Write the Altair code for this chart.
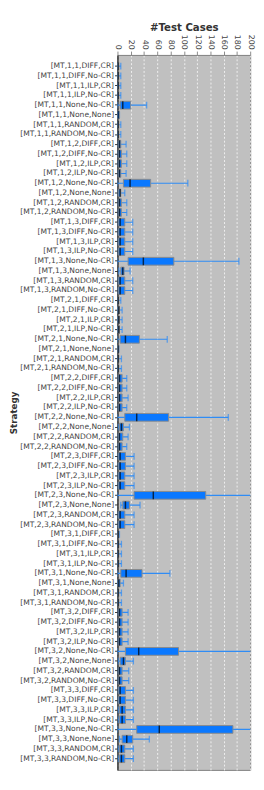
import altair as alt
import pandas as pd

groups = ["1,1", "1,2", "1,3", "2,1", "2,2", "2,3", "3,1", "3,2", "3,3"]
variants = ["DIFF,CR", "DIFF,No-CR", "ILP,CR", "ILP,No-CR",
            "None,No-CR", "None,None", "RANDOM,CR", "RANDOM,No-CR"]
strategies = [f"[MT,{g},{v}]" for g in groups for v in variants]
x_ticks = [0, 20, 40, 60, 80, 100, 120, 140, 160, 180, 200]

mins = [0, 0, 0, 0, 0, 0, 0, 0,
        1, 1, 1, 1, 0, 1, 1, 1,
        1, 1, 1, 1, 0, 2, 1, 1,
        0, 0, 0, 0, 0, 0, 0, 0,
        1, 1, 1, 1, 0, 1, 1, 1,
        1, 1, 1, 1, 0, 5, 1, 1,
        0, 0, 0, 0, 0, 0, 0, 0,
        1, 1, 1, 1, 0, 1, 1, 1,
        1, 1, 1, 1, 0, 3, 1, 1]
q1s = [1, 1, 1, 1, 4, 0, 1, 1,
       2, 2, 2, 2, 9, 2, 2, 2,
       2, 2, 2, 2, 16, 5, 2, 2,
       1, 1, 1, 1, 4, 0, 1, 1,
       2, 2, 2, 2, 11, 3, 2, 2,
       2, 2, 2, 2, 25, 8, 2, 2,
       1, 1, 1, 1, 5, 1, 1, 1,
       2, 2, 2, 2, 12, 4, 2, 2,
       2, 2, 3, 3, 29, 7, 3, 3]
medians = [1, 1, 1, 1, 8, 1, 1, 1,
           3, 3, 3, 3, 19, 4, 3, 3,
           4, 4, 4, 4, 39, 8, 4, 4,
           1, 2, 2, 2, 12, 1, 1, 1,
           3, 3, 3, 3, 29, 6, 3, 3,
           4, 4, 4, 4, 54, 12, 4, 4,
           1, 1, 1, 1, 13, 2, 1, 1,
           3, 3, 3, 3, 32, 9, 3, 3,
           4, 4, 7, 7, 63, 14, 6, 6]
q3s = [2, 2, 2, 2, 20, 3, 2, 2,
       5, 6, 6, 5, 50, 5, 6, 6,
       11, 11, 11, 11, 85, 10, 11, 11,
       2, 3, 3, 3, 33, 2, 2, 2,
       7, 7, 7, 7, 77, 9, 8, 7,
       12, 12, 11, 11, 133, 18, 11, 11,
       2, 2, 2, 2, 37, 4, 2, 2,
       7, 7, 7, 7, 92, 12, 7, 7,
       12, 12, 12, 12, 174, 23, 11, 11]
maxs = [5, 5, 5, 5, 44, 3, 5, 5,
        13, 14, 14, 13, 106, 11, 14, 14,
        23, 23, 23, 23, 183, 19, 23, 23,
        5, 7, 7, 7, 75, 2, 6, 6,
        14, 14, 16, 14, 167, 18, 16, 14,
        25, 25, 25, 25, 230, 34, 25, 25,
        3, 6, 6, 6, 79, 9, 6, 6,
        16, 16, 16, 16, 215, 24, 17, 17,
        24, 24, 24, 24, 240, 48, 24, 24]

df = pd.DataFrame({
    "strategy": strategies,
    "min": mins, "q1": q1s, "median": medians, "q3": q3s, "max": maxs,
})

BLUE = "#0a78ff"
WHISK = "#2f8cf5"

xscale = alt.Scale(domain=[0, 200], nice=False, zero=True)
xaxis = alt.Axis(orient="top", values=x_ticks,
                 title="#Test Cases", titleFontSize=10.5,
                 titleFontWeight="bold", titleColor="#333",
                 titlePadding=2,
                 labelAngle=90, labelAlign="right",
                 labelBaseline="middle", labelFontSize=8,
                 labelColor="#444", labelPadding=2,
                 labelOverlap=False, labelFlush=False,
                 tickSize=4, tickColor="#888", domainColor="#888",
                 grid=True, gridColor="#f0f0f0", gridDash=[2, 2],
                 gridWidth=1)


def xq(field):
    return alt.X(f"{field}:Q", scale=xscale, axis=xaxis, title="#Test Cases")


yenc = alt.Y(
    "strategy:N", sort=strategies,
    scale=alt.Scale(paddingInner=0, paddingOuter=0.65),
    axis=alt.Axis(title="Strategy", titleFontSize=9, titleFontWeight="bold",
                  titleColor="#333", titlePadding=1,
                  labelFontSize=7.8, labelColor="#444", labelPadding=1,
                  tickSize=3, tickColor="#333", domainColor="#333",
                  domainWidth=1.5),
)

base = alt.Chart(df).encode(y=yenc)

whisker = base.mark_rule(color=WHISK, strokeWidth=1.2, clip=True).encode(
    x=xq("min"), x2="max:Q")
cap_lo = base.mark_tick(color=WHISK, size=7, thickness=1.3, clip=True,
                        orient="vertical").encode(x=xq("min"))
cap_hi = base.mark_tick(color=WHISK, size=7, thickness=1.3, clip=True,
                        orient="vertical").encode(x=xq("max"))
box = base.mark_bar(size=8, color=BLUE, stroke="#8a8a8a", strokeWidth=1,
                    clip=True).encode(x=xq("q1"), x2="q3:Q")
med = base.mark_tick(color="black", size=8, thickness=1.5, clip=True,
                     orient="vertical").encode(x=xq("median"))

chart = alt.layer(whisker, cap_lo, cap_hi, box, med).properties(
    width=137, height=738,
    autosize=alt.AutoSizeParams(type="none"),
    padding={"left": 113, "top": 36, "right": 6, "bottom": 0},
).configure(font="DejaVu Sans").configure_view(
    fill="#c0c0c0", stroke="#808080", strokeWidth=1
)

chart.save("out.html", embed_options={"renderer": "svg", "actions": False})
